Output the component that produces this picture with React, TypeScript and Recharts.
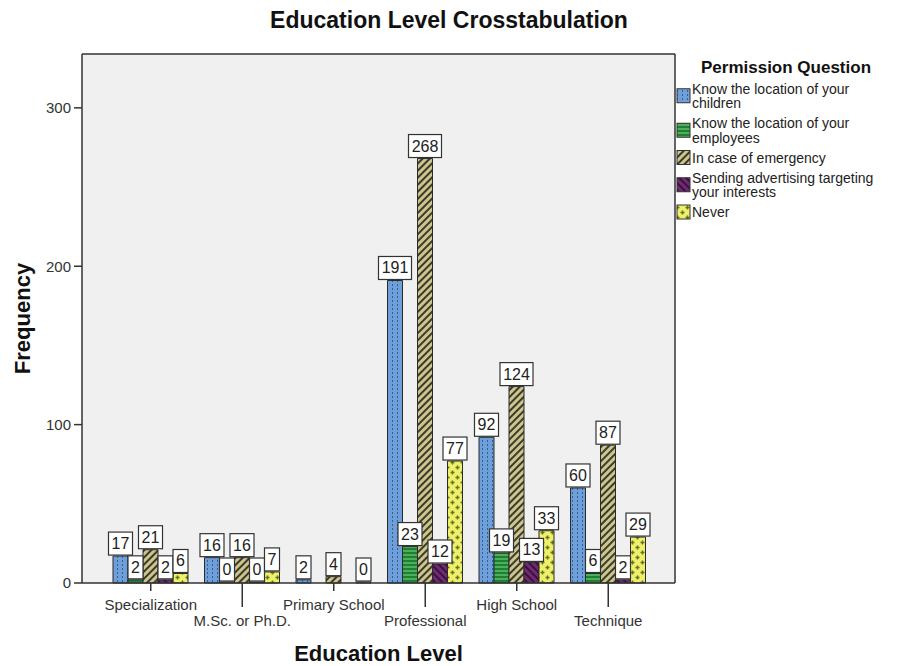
import React from 'react';
import { BarChart, Bar, XAxis, YAxis, CartesianGrid, LabelList, Legend } from 'recharts';

const categories = ['Specialization', 'M.Sc. or Ph.D.', 'Primary School', 'Professional', 'High School', 'Technique'];
const knowChildren = [17, 16, 2, 191, 92, 60];
const knowEmployees = [2, 0, null, 23, 19, 6];
const emergency = [21, 16, 4, 268, 124, 87];
const advertising = [2, 0, null, 12, 13, 2];
const never = [6, 7, 0, 77, 33, 29];
const yTicks = [0, 100, 200, 300];
const yDomain = [0, 334];

const seriesKeys = ['children', 'employees', 'emergency', 'advertising', 'never'];
const seriesLegend = [
  ['Know the location of your', 'children'],
  ['Know the location of your', 'employees'],
  ['In case of emergency'],
  ['Sending advertising targeting', 'your interests'],
  ['Never'],
];
const seriesPatterns = ['pBlue', 'pGreen', 'pKhaki', 'pPurple', 'pYellow'];

const data = categories.map((c, i) => ({
  category: c,
  children: knowChildren[i],
  employees: knowEmployees[i],
  emergency: emergency[i],
  advertising: advertising[i],
  never: never[i],
}));

const FONT = '"Liberation Sans", Arial, Helvetica, sans-serif';

const renderLabel = (props: any) => {
  const { x, y, width, value } = props;
  if (value === null || value === undefined) return null;
  const s = String(value);
  const w = s.length * 9 + 6;
  const h = 23;
  const cx = Number(x) + Number(width) / 2;
  const bottom = Math.min(Number(y), Number(y) + Number(props.height || 0)) - 1;
  return (
    <g>
      <rect x={cx - w / 2} y={bottom - h} width={w} height={h} fill="#ffffff" stroke="#333" strokeWidth={1.2} />
      <text x={cx} y={bottom - 6} textAnchor="middle" fontSize={16} fill="#222" fontFamily={FONT}>
        {s}
      </text>
    </g>
  );
};

const XTick = (props: any) => {
  const { x, y, payload, index } = props;
  const lower = index % 2 === 1;
  return (
    <g>
      <line x1={x} y1={y} x2={x} y2={y + (lower ? 24 : 8)} stroke="#333" strokeWidth={1.5} />
      <text x={x} y={y + (lower ? 43 : 27)} textAnchor="middle" fontSize={15} fill="#333" fontFamily={FONT}>
        {payload.value}
      </text>
    </g>
  );
};

const LegendContent = () => {
  const ox = 670;
  const oy = 50;
  const lh = 14.5;
  let lineY = 88.5;
  const items: any[] = [];
  seriesLegend.forEach((lines, i) => {
    const first = lineY;
    const mid = first + ((lines.length - 1) * lh) / 2;
    items.push(
      <g key={i}>
        <rect x={677 - ox} y={mid - 7 - oy} width={13} height={14} fill={`url(#${seriesPatterns[i]})`} stroke="#333" strokeWidth={1} />
        {lines.map((t, j) => (
          <text key={j} x={692 - ox} y={first + j * lh + 5 - oy} fontSize={14} fill="#222" fontFamily={FONT}>
            {t}
          </text>
        ))}
      </g>
    );
    lineY = first + lines.length * lh + 5.5;
  });
  return (
    <svg width={228} height={190} style={{ display: 'block' }}>
      <text x={786 - ox} y={73 - oy} textAnchor="middle" fontSize={17} fontWeight="bold" fill="#111" fontFamily={FONT}>
        Permission Question
      </text>
      {items}
    </svg>
  );
};

const Patterns = () => (
  <svg width={0} height={0} style={{ position: 'absolute' }}>
    <defs>
      <pattern id="pBlue" width={5} height={4} patternUnits="userSpaceOnUse">
        <rect width={5} height={4} fill="#6f9fd8" />
        <rect x={2} y={0} width={1} height={2} fill="#2f6099" />
      </pattern>
      <pattern id="pGreen" width={4} height={4} patternUnits="userSpaceOnUse">
        <rect width={4} height={4} fill="#4caf5a" />
        <rect x={0} y={0} width={4} height={2} fill="#1f7f34" />
      </pattern>
      <pattern id="pKhaki" width={5} height={5} patternUnits="userSpaceOnUse" patternTransform="rotate(45)">
        <rect width={5} height={5} fill="#cbc58f" />
        <rect x={0} y={0} width={2} height={5} fill="#3d3a28" />
      </pattern>
      <pattern id="pPurple" width={5} height={5} patternUnits="userSpaceOnUse" patternTransform="rotate(-45)">
        <rect width={5} height={5} fill="#6d2c70" />
        <rect x={0} y={0} width={2} height={5} fill="#3c0f40" />
      </pattern>
      <pattern id="pYellow" width={10} height={10} patternUnits="userSpaceOnUse">
        <rect width={10} height={10} fill="#efef6a" />
        <rect x={1.75} y={0.5} width={1.5} height={4} fill="#5f7420" />
        <rect x={0.5} y={1.75} width={4} height={1.5} fill="#5f7420" />
        <rect x={6.75} y={5.5} width={1.5} height={4} fill="#5f7420" />
        <rect x={5.5} y={6.75} width={4} height={1.5} fill="#5f7420" />
      </pattern>
    </defs>
  </svg>
);

const minSize = (v: any) => (v === 0 ? 1 : 0);

export default function App() {
  return (
    <div style={{ position: 'absolute', left: 0, top: 0, width: 898, height: 666, background: '#fff', fontFamily: FONT }}>
      <Patterns />
      <div
        style={{
          position: 'absolute',
          left: 0,
          top: 7,
          width: 898,
          textAlign: 'center',
          fontSize: 23,
          fontWeight: 'bold',
          color: '#111',
          lineHeight: '27px',
        }}
      >
        Education Level Crosstabulation
      </div>
      <BarChart
        width={898}
        height={666}
        data={data}
        margin={{ top: 54, right: 223, bottom: 0, left: 0 }}
        barGap={0}
        barCategoryGap={8}
      >
        <CartesianGrid
          fill="#f0f0f0"
          fillOpacity={1}
          stroke="#333"
          strokeWidth={1.5}
          horizontalCoordinatesGenerator={({ offset }: any) => [offset.top]}
          verticalCoordinatesGenerator={({ offset }: any) => [offset.left + offset.width]}
        />
        <XAxis
          dataKey="category"
          height={83}
          interval={0}
          tickSize={0}
          tickMargin={0}
          tickLine={false}
          tick={<XTick />}
          padding={{ left: 23, right: 21 }}
          axisLine={{ stroke: '#333', strokeWidth: 1.5 }}
          label={(p: any) => {
            const vb = p.viewBox || {};
            return (
              <text x={vb.x + vb.width / 2} y={vb.y + 78} textAnchor="middle" fontSize={22} fontWeight="bold" fill="#111" fontFamily={FONT}>
                Education Level
              </text>
            );
          }}
        />
        <YAxis
          width={82}
          domain={yDomain}
          ticks={yTicks}
          interval={0}
          tickSize={8}
          tickMargin={3}
          tick={{ fontSize: 15, fill: '#333' }}
          tickLine={{ stroke: '#333', strokeWidth: 1.5 }}
          axisLine={{ stroke: '#333', strokeWidth: 1.5 }}
          label={(p: any) => {
            const vb = p.viewBox || {};
            const cx = vb.x + 22;
            const cy = vb.y + vb.height / 2;
            return (
              <text x={cx} y={cy} transform={`rotate(-90 ${cx} ${cy})`} textAnchor="middle" dominantBaseline="central" fontSize={22} fontWeight="bold" fill="#111" fontFamily={FONT}>
                Frequency
              </text>
            );
          }}
        />
        <Legend
          layout="vertical"
          align="center"
          verticalAlign="middle"
          content={<LegendContent />}
          wrapperStyle={{ left: 670, top: 50, width: 228, height: 190 }}
        />
        {seriesKeys.map((k, i) => (
          <Bar
            key={k}
            dataKey={k}
            fill={`url(#${seriesPatterns[i]})`}
            stroke="#2b2b2b"
            strokeWidth={1}
            minPointSize={minSize}
            isAnimationActive={false}
          >
            <LabelList dataKey={k} content={renderLabel} />
          </Bar>
        ))}
      </BarChart>
    </div>
  );
}
